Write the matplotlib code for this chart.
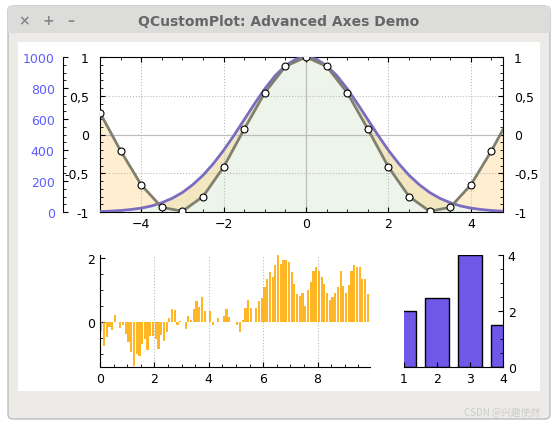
import numpy as np
import matplotlib.pyplot as plt
from matplotlib.patches import Rectangle, FancyBboxPatch
from matplotlib.ticker import AutoMinorLocator, FuncFormatter

# top plot: cos points and gaussian
cos_x = [-5.0, -4.5, -4.0, -3.5, -3.0, -2.5, -2.0, -1.5, -1.0, -0.5, 0.0,
         0.5, 1.0, 1.5, 2.0, 2.5, 3.0, 3.5, 4.0, 4.5, 5.0]
cos_y = [0.28, -0.21, -0.65, -0.94, -0.99, -0.80, -0.42, 0.07, 0.54, 0.88, 1.0,
         0.88, 0.54, 0.07, -0.42, -0.80, -0.99, -0.94, -0.65, -0.21, 0.28]
gauss_x = [-5.0, -4.75, -4.5, -4.25, -4.0, -3.75, -3.5, -3.25, -3.0, -2.75, -2.5,
           -2.25, -2.0, -1.75, -1.5, -1.25, -1.0, -0.75, -0.5, -0.25, 0.0,
           0.25, 0.5, 0.75, 1.0, 1.25, 1.5, 1.75, 2.0, 2.25, 2.5, 2.75, 3.0,
           3.25, 3.5, 3.75, 4.0, 4.25, 4.5, 4.75, 5.0]
gauss_y = [3, 5.6, 9.5, 16, 25, 39, 60, 88, 126, 176, 237, 312, 398, 494, 596,
           698, 795, 879, 944, 986, 1000, 986, 944, 879, 795, 698, 596, 494, 398,
           312, 237, 176, 126, 88, 60, 39, 25, 16, 9.5, 5.6, 3]

# bottom left bars
bar_vals = [-0.27, -0.73, -0.45, -0.15, -0.25, 0.22, 0.0, -0.18, -0.08, -0.38,
            -0.62, -0.93, -1.38, -1.0, -1.05, -0.67, -0.52, -0.87, -0.42, -0.42,
            -0.52, -0.85, -0.4, -0.6, -0.3, 0.13, 0.42, 0.37, -0.1, 0.05,
            0.02, -0.2, 0.2, 0.08, 0.4, 0.65, 0.48, 0.78, 0.35, 0.02,
            0.35, -0.08, 0.02, 0.12, 0.02, 0.18, 0.42, 0.15, 0.02, 0.0,
            -0.08, -0.32, 0.08, 0.45, 0.68, 0.45, 0.0, 0.45, 0.65, 0.75,
            1.1, 1.35, 1.58, 1.4, 1.78, 2.1, 1.83, 1.95, 1.95, 1.88,
            1.58, 1.2, 0.88, 0.82, 0.9, 0.52, 1.0, 1.27, 1.6, 1.72,
            1.6, 1.42, 1.2, 0.92, 0.68, 0.8, 0.92, 1.1, 1.6, 1.13,
            0.9, 1.15, 1.6, 1.78, 1.72, 1.72, 1.35, 1.35, 0.87]
bar_x = np.arange(len(bar_vals)) * 0.1

# bottom right bars
cat_x = [1, 2, 3, 4]
cat_vals = [2.0, 2.48, 4.0, 1.5]

W, H = 558, 431
fig = plt.figure(figsize=(W / 100, H / 100), dpi=100)
fig.patch.set_facecolor('white')

def rect(x, y, w, h):
    return [x / W, 1 - (y + h) / H, w / W, h / H]

# window chrome
chrome = [
    FancyBboxPatch((8 / W, 1 - 420 / H), 542 / W, 413 / H,
                   boxstyle='round,pad=0,rounding_size=0.01', transform=fig.transFigure,
                   fc='#edebe7', ec='#bdbdbd', lw=1, zorder=-3),
    Rectangle((8 / W, 1 - 34 / H), 542 / W, 27 / H, transform=fig.transFigure,
              fc='#dcdcda', ec='none', zorder=-2),
    Rectangle((18 / W, 1 - 392 / H), 522 / W, 349 / H, transform=fig.transFigure,
              fc='white', ec='none', zorder=-1),
]
for p in chrome:
    fig.patches.append(p)
fig.text(0.5, 1 - 22 / H, 'QCustomPlot: Advanced Axes Demo', ha='center', va='center',
         fontsize=10, fontweight='bold', color='#666666')
for xx, s in [(24, '×'), (48, '+'), (71, '–')]:
    fig.text(xx / W, 1 - 21 / H, s, ha='center', va='center', fontsize=10, color='#888888', fontweight='bold')
fig.text(540 / W, 1 - 418 / H, 'CSDN @兴趣使然', ha='right', va='bottom', fontsize=7,
         color='#cccccc', family=['Noto Sans CJK SC', 'DejaVu Sans'])

comma = FuncFormatter(lambda v, p: ('%g' % v).replace('.', ','))
tick_kw = dict(direction='in', labelsize=9)

# top plot
ax = fig.add_axes(rect(100, 58, 403, 155))
ax.set_xlim(-5.0, 4.78)
ax.set_ylim(-1, 1)
gy_as_cos = np.array(gauss_y) / 500.0 - 1
ax.fill_between(gauss_x, -1, gy_as_cos, color='#e6f0e0', alpha=0.7, lw=0)
xs = np.linspace(-5, 5, 401)
ci = np.interp(xs, cos_x, cos_y)
gs = np.interp(xs, gauss_x, gy_as_cos)
ax.fill_between(xs, ci, gs, color='#ffcc66', alpha=0.3, lw=0)
ax.plot(gauss_x, gy_as_cos, color='#7a6cc0', lw=2, zorder=4)
ax.plot(cos_x, cos_y, color='#808070', lw=2, marker='o', ms=5, mfc='white', mec='black',
        mew=0.8, zorder=5)
ax.axhline(0, color='#bbbbbb', lw=0.8, zorder=1)
ax.axvline(0, color='#bbbbbb', lw=0.8, zorder=1)
ax.grid(True, ls=':', color='#bbbbbb', lw=0.8)
ax.set_xticks([-4, -2, 0, 2, 4])
ax.set_yticks([-1, -0.5, 0, 0.5, 1])
ax.yaxis.set_major_formatter(comma)
ax.xaxis.set_minor_locator(AutoMinorLocator(4))
ax.yaxis.set_minor_locator(AutoMinorLocator(5))
ax.tick_params(which='both', top=True, right=True, labelright=True, labelleft=True, **tick_kw)
ax.tick_params(axis='y', pad=8)
# outer blue axis
ob = fig.add_axes(rect(63, 58, 1, 155))
ob.set_ylim(0, 1000)
ob.set_xticks([])
for s in ['top', 'bottom', 'right']:
    ob.spines[s].set_visible(False)
ob.set_yticks([0, 200, 400, 600, 800, 1000])
ob.yaxis.set_minor_locator(AutoMinorLocator(4))
ob.tick_params(axis='y', which='both', direction='in', labelsize=9, labelcolor='#5c5cff', pad=6)
ob.patch.set_visible(False)

# bottom left
b = fig.add_axes(rect(100, 256, 270, 112))
b.bar(bar_x + 0.05, bar_vals, width=0.08, color='#ffaa00', alpha=0.85, lw=0)
b.set_xlim(0, 9.93)
b.set_ylim(-1.4, 2.1)
b.set_xticks([0, 2, 4, 6, 8])
b.set_yticks([0, 2])
b.xaxis.set_minor_locator(AutoMinorLocator(4))
b.yaxis.set_minor_locator(AutoMinorLocator(4))
b.grid(True, axis='x', ls=':', color='#bbbbbb', lw=0.8)
b.set_axisbelow(True)
b.spines['top'].set_visible(False)
b.spines['right'].set_visible(False)
b.tick_params(which='both', **tick_kw)

# bottom right
c = fig.add_axes(rect(404, 256, 99, 112))
c.bar(cat_x, cat_vals, width=0.75, color='#6f57e8', ec='black', lw=1)
c.set_xlim(1, 4)
c.set_ylim(0, 4)
c.set_xticks(cat_x)
c.set_yticks([0, 2, 4])
c.yaxis.set_minor_locator(AutoMinorLocator(4))
c.spines['top'].set_visible(False)
c.spines['left'].set_visible(False)
c.yaxis.tick_right()
c.tick_params(which='both', **tick_kw)

fig.savefig('out.png', dpi=100, facecolor=fig.get_facecolor())
